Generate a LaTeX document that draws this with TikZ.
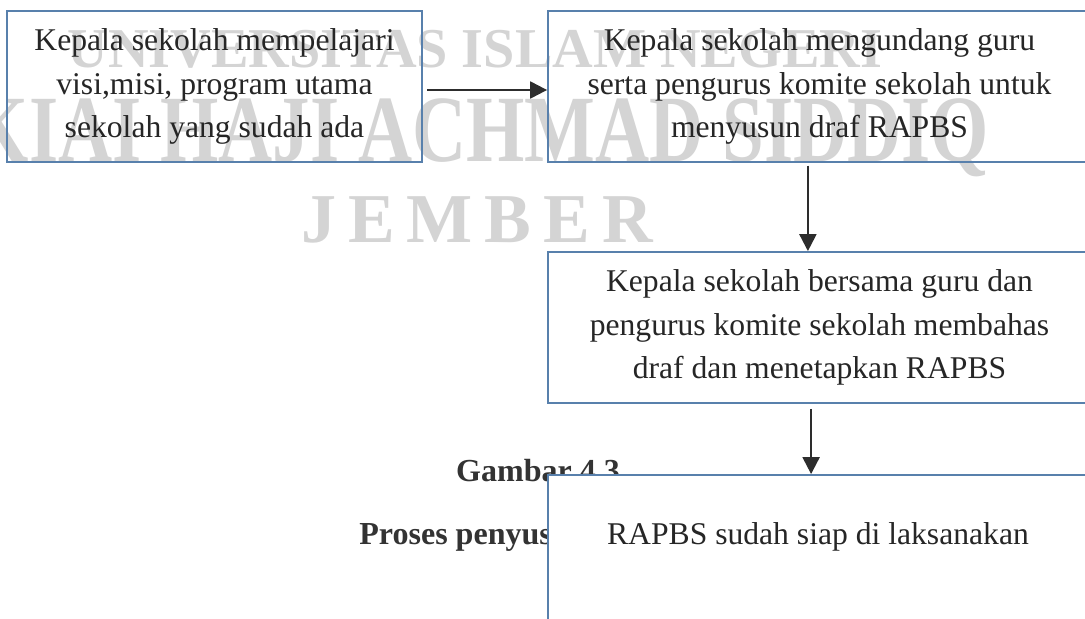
\documentclass[tikz,border=0pt]{standalone}
\usepackage{fontspec}
\usepackage{graphicx}
\usepackage{xcolor}
\usepackage{tikz}
\usetikzlibrary{arrows.meta}
\setmainfont{Liberation Serif}
\newfontfamily\wmspaced[LetterSpace=17]{Liberation Serif}
\definecolor{boxblue}{RGB}{88,128,172}
\definecolor{wmgray}{RGB}{212,212,212}
\definecolor{inkgray}{RGB}{45,45,45}

\begin{document}
\begin{tikzpicture}[
    stepbox/.style={draw=boxblue, line width=1.3pt, minimum height=3.775cm,
      inner sep=0pt, align=center, text=black!85,
      font=\fontsize{22.5}{30.9}\selectfont},
    flow/.style={-{Triangle[length=12pt,width=12pt]}, line width=1.6pt, inkgray},
    wmark/.style={text=wmgray, inner sep=0pt, anchor=base, font=\bfseries},
    caption/.style={anchor=base, text=black!80, inner sep=0pt,
      font=\fontsize{22.8}{27}\selectfont\bfseries}]
  \clip (0,0) rectangle (27.125,15.475);
  \fill[white] (0,0) rectangle (27.125,15.475);
  % watermark
  \node[wmark] (wmtop) at (11.875,13.775) {\fontsize{40}{44}\selectfont UNIVERSITAS ISLAM NEGERI};
  \node[wmark] (wmmid) at (12.0,11.425) {\fontsize{67.5}{70}\selectfont\scalebox{0.79}[1]{KIAI HAJI ACHMAD SIDDIQ}};
  \node[wmark] (wmcity) at (11.925,9.4) {\fontsize{49.8}{52}\selectfont\wmspaced\bfseries JEMBER};
  % caption, partly hidden by the last box
  \node[caption] (capnum) at (13.45,3.425) {Gambar 4.3};
  \node[caption, anchor=base west] (captitle) at (8.975,1.85) {Proses penyus};
  % boxes
  \node[stepbox, minimum width=10.375cm] (mission) at (5.3625,13.3125)
    {Kepala sekolah mempelajari\\visi,misi, program utama\\sekolah yang sudah ada};
  \node[stepbox, minimum width=13.575cm] (invite) at (20.4875,13.3125)
    {Kepala sekolah mengundang guru\\serta pengurus komite sekolah untuk\\menyusun draf RAPBS};
  \node[stepbox, minimum width=13.575cm] (discuss) at (20.4875,7.2875)
    {Kepala sekolah bersama guru dan\\pengurus komite sekolah membahas\\draf dan menetapkan RAPBS};
  \node[stepbox, minimum width=13.575cm, fill=white] (ready) at (20.4875,1.7125) {};
  \node[anchor=base, text=black!85, font=\fontsize{22.5}{30.9}\selectfont] (readytxt) at (20.45,1.85)
    {RAPBS sudah siap di laksanakan};
  % arrows
  \draw[flow] ([xshift=3pt,yshift=-2.5pt]mission.east) -- ([yshift=-2.5pt]invite.west);
  \draw[flow] ([xshift=-0.29cm,yshift=-2pt]invite.south) -- ([xshift=-0.29cm]discuss.north);
  \draw[flow] ([xshift=-0.21cm,yshift=-3.5pt]discuss.south) -- ([xshift=-0.21cm]ready.north);
\end{tikzpicture}
\end{document}
